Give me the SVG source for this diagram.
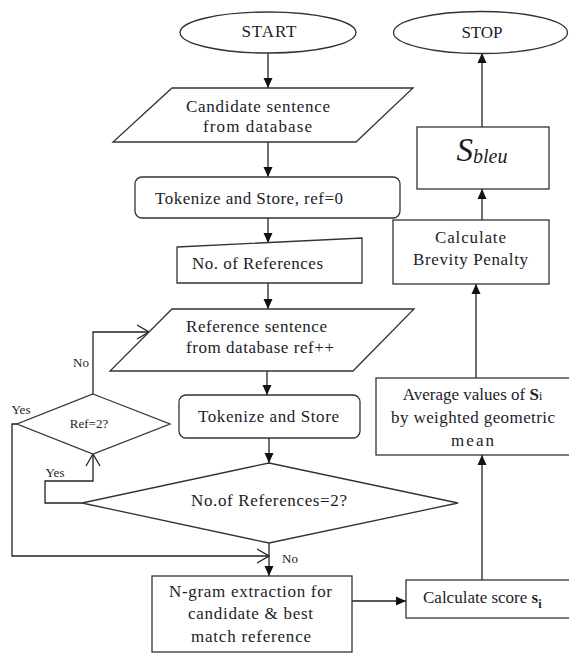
<svg xmlns="http://www.w3.org/2000/svg" width="569" height="654" viewBox="0 0 569 654">
<style>
.s{fill:#fff;stroke:#333;stroke-width:1.3}
.c{fill:none;stroke:#222;stroke-width:1.3}
.t{font-family:"Liberation Serif","Times New Roman",serif;font-size:17px;fill:#1c1c28}
.m{text-anchor:middle}
.sm{font-size:13px}
</style>
<defs>
<marker id="f" markerWidth="10" markerHeight="10" refX="10" refY="5" orient="auto" markerUnits="userSpaceOnUse">
<path d="M0,0.5 L10,5 L0,9.5 Z" fill="#111"/>
</marker>
<marker id="o" markerWidth="14" markerHeight="16" refX="13" refY="8" orient="auto" markerUnits="userSpaceOnUse">
<path d="M1,1 L13,8 L1,15" fill="none" stroke="#222" stroke-width="1.3"/>
</marker>
</defs>
<rect width="569" height="654" fill="#fff"/>

<g id="connectors">
<line class="c" x1="268" y1="53" x2="268" y2="88" marker-end="url(#f)"/>
<line class="c" x1="268" y1="142" x2="268" y2="177" marker-end="url(#f)"/>
<line class="c" x1="268" y1="218" x2="268" y2="243" marker-end="url(#f)"/>
<line class="c" x1="268" y1="283" x2="268" y2="309" marker-end="url(#f)"/>
<line class="c" x1="267" y1="371" x2="267" y2="395" marker-end="url(#f)"/>
<line class="c" x1="269" y1="438" x2="269" y2="463" marker-end="url(#f)"/>
<line class="c" x1="269" y1="543" x2="269" y2="576" marker-end="url(#f)"/>
<polyline class="c" points="82,503 45,503 45,481 93,481 93,454" marker-end="url(#o)"/>
<polyline class="c" points="93,394 93,332 149,332" marker-end="url(#o)"/>
<polyline class="c" points="17,424 12,424 12,556 269,556" marker-end="url(#o)"/>
<line class="c" x1="352" y1="601" x2="406" y2="601" marker-end="url(#f)"/>
<line class="c" x1="482" y1="580" x2="482" y2="455" marker-end="url(#f)"/>
<line class="c" x1="476" y1="378" x2="476" y2="284" marker-end="url(#f)"/>
<line class="c" x1="482" y1="220" x2="482" y2="189" marker-end="url(#f)"/>
<line class="c" x1="482" y1="127" x2="482" y2="53" marker-end="url(#f)"/>
<text class="t sm m" x="81" y="367">No</text>
<text class="t sm m" x="21" y="414">Yes</text>
<text class="t sm m" x="55" y="477">Yes</text>
<text class="t sm m" x="290" y="563">No</text>
</g>

<g id="start">
<ellipse class="s" cx="268" cy="32.5" rx="88" ry="20.5"/>
<text class="t m" x="269" y="37" textLength="55">START</text>
</g>

<g id="candidate">
<polygon class="s" points="172,88 413,88 356,142 113,142"/>
<text class="t m" x="258" y="112" textLength="144">Candidate sentence</text>
<text class="t m" x="257.5" y="132" textLength="109">from database</text>
</g>

<g id="tokenize1">
<rect class="s" x="135" y="177" width="265" height="41" rx="7"/>
<text class="t m" x="249" y="204" textLength="188">Tokenize and Store, ref=0</text>
</g>

<g id="noref">
<polygon class="s" points="177,247 362,238 362,283 177,283"/>
<text class="t m" x="257.5" y="269" textLength="131">No. of References</text>
</g>

<g id="refsentence">
<polygon class="s" points="172,309 414,309 353,371 110,371"/>
<text class="t" x="186" y="332" textLength="141">Reference sentence</text>
<text class="t" x="186" y="353" textLength="148">from database ref++</text>
</g>

<g id="tokenize2">
<rect class="s" x="179" y="395" width="181" height="43" rx="7"/>
<text class="t m" x="268.5" y="422" textLength="141">Tokenize and Store</text>
</g>

<g id="decision-refs">
<polygon class="s" points="269,463 458,503 269,543 82,503"/>
<text class="t m" x="269" y="506" textLength="156">No.of References=2?</text>
</g>

<g id="decision-ref2">
<polygon class="s" points="93,394 170,424 93,454 17,424"/>
<text class="t sm m" x="89" y="428">Ref=2?</text>
</g>

<g id="ngram">
<rect class="s" x="152" y="576" width="200" height="76"/>
<text class="t m" x="250.5" y="597" textLength="163">N-gram  extraction for</text>
<text class="t m" x="250.5" y="619" textLength="125">candidate &amp; best</text>
<text class="t m" x="251" y="642" textLength="120">match reference</text>
</g>

<g id="score">
<rect class="s" x="406" y="580" width="175" height="38"/>
<text class="t" x="423" y="603">Calculate score <tspan font-weight="bold">s</tspan><tspan font-weight="bold" font-size="12" dy="5">i</tspan></text>
</g>

<g id="average">
<rect class="s" x="376" y="378" width="205" height="77"/>
<text class="t m" x="472.5" y="400">Average values of <tspan font-weight="bold">S</tspan><tspan font-size="12">i</tspan></text>
<text class="t m" x="473" y="423" textLength="164">by weighted geometric</text>
<text class="t m" x="472.5" y="446" textLength="43">mean</text>
</g>

<g id="brevity">
<rect class="s" x="393" y="220" width="156" height="64"/>
<text class="t m" x="470.5" y="243" textLength="71">Calculate</text>
<text class="t m" x="470.5" y="265" textLength="115">Brevity Penalty</text>
</g>

<g id="sbleu">
<rect class="s" x="417" y="127" width="132" height="62"/>
<text class="t m" x="482" y="161" font-style="italic"><tspan font-size="33">S</tspan><tspan font-size="20" dy="2">bleu</tspan></text>
</g>

<g id="stop">
<ellipse class="s" cx="480.5" cy="32.5" rx="87" ry="21"/>
<text class="t m" x="482" y="38" textLength="41">STOP</text>
</g>
</svg>
